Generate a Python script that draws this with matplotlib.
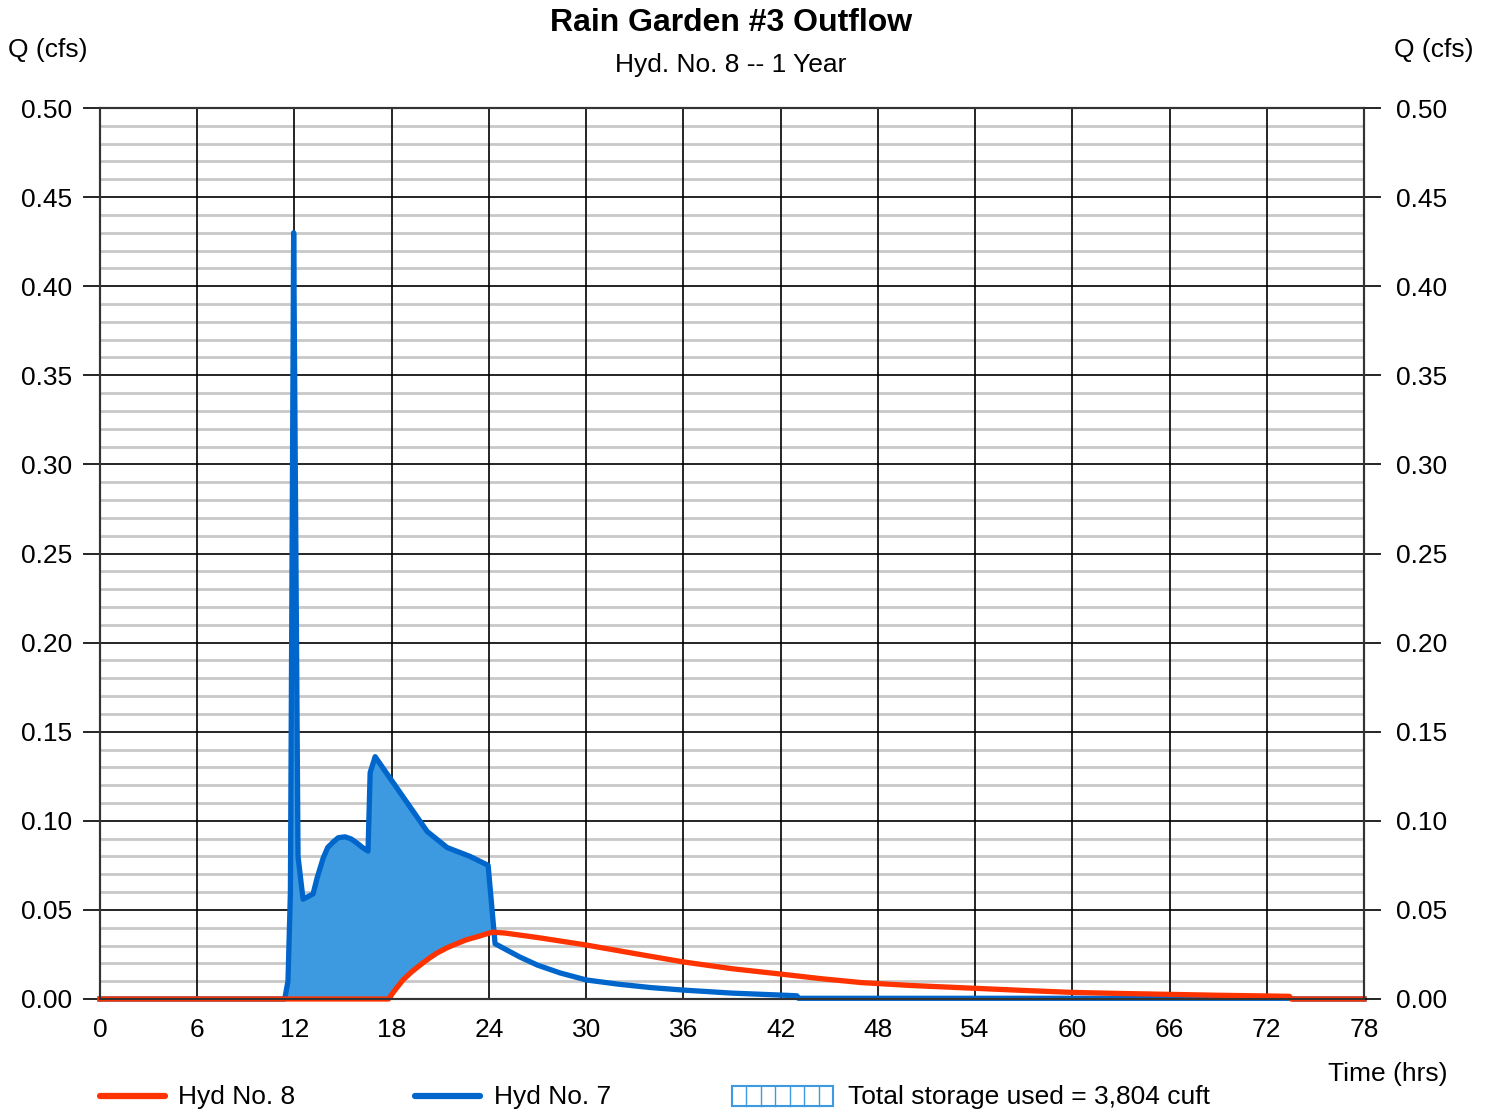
import numpy as np
import matplotlib
matplotlib.use("Agg")
import matplotlib.pyplot as plt
from matplotlib.patches import Rectangle
from matplotlib.lines import Line2D

plt.rcParams['font.family'] = ['Liberation Sans', 'DejaVu Sans']

# Hyd No. 7 (inflow)
t7 = [0, 11.4, 11.6, 11.75, 11.95, 12.05, 12.22, 12.53, 13.15, 13.4, 13.77, 14.05,
      14.38, 14.7, 15.12, 15.5, 15.86, 16.2, 16.54, 16.67, 16.98, 17.28, 20.19,
      21.42, 22.84, 23.95, 24.38, 25.0, 25.9, 27.0, 28.4, 30.0, 32.0, 34.0, 36.0,
      39.0, 42.0, 43.0, 43.1, 73.5, 73.6, 78]
q7 = [0, 0, 0.01, 0.06, 0.43, 0.30, 0.08, 0.056, 0.059, 0.068, 0.079, 0.085,
      0.088, 0.0905, 0.091, 0.0898, 0.0875, 0.085, 0.083, 0.127, 0.136, 0.132, 0.094,
      0.085, 0.080, 0.075, 0.031, 0.028, 0.0236, 0.019, 0.0146, 0.0107, 0.0083,
      0.0064, 0.005, 0.0033, 0.0022, 0.0018, 0.0004, 0.0004, 0, 0]

# Hyd No. 8 (outflow)
t8 = [0, 17.8, 18.2, 18.7, 19.2, 19.75, 20.3, 20.8, 21.4, 22.0, 22.6, 23.3, 24.2,
      25.0, 27.0, 30.0, 33.0, 36.0, 39.0, 42.0, 44.5, 47.0, 50.0, 54.0, 57.0, 60.0,
      63.0, 66.0, 69.0, 72.0, 73.4, 73.5, 78]
q8 = [0, 0, 0.005, 0.0107, 0.015, 0.019, 0.0228, 0.0258, 0.0287, 0.031, 0.0332,
      0.035, 0.0375, 0.037, 0.0345, 0.0303, 0.0255, 0.0208, 0.017, 0.014, 0.0114,
      0.0092, 0.0076, 0.006, 0.0048, 0.0037, 0.0031, 0.0026, 0.0021, 0.0017,
      0.0015, 0, 0]

xticks = [0, 6, 12, 18, 24, 30, 36, 42, 48, 54, 60, 66, 72, 78]
yticks = [0.00, 0.05, 0.10, 0.15, 0.20, 0.25, 0.30, 0.35, 0.40, 0.45, 0.50]

title = "Rain Garden #3 Outflow"
subtitle = "Hyd. No. 8 -- 1 Year"
storage_label = "Total storage used = 3,804 cuft"

red = '#ff3300'
blue = '#0066cc'
fill_c = '#3d9ae0'

fig = plt.figure(figsize=(14.93, 11.10), dpi=100)
ax = fig.add_axes([100/1493, 1-999/1110, 1264/1493, 891/1110])
ax.set_xlim(0, 78)
ax.set_ylim(0, 0.5)

# grid
for y in np.arange(0.01, 0.5, 0.01):
    if abs(y / 0.05 - round(y / 0.05)) > 1e-6:
        ax.axhline(y, color='#c8c8c8', lw=2.0, zorder=1)
for y in yticks[1:-1]:
    ax.axhline(y, color='black', lw=1.2, zorder=1.5)
for x in xticks[1:-1]:
    ax.axvline(x, color='black', lw=1.2, zorder=1.5)

# fill between inflow and outflow
tg = np.union1d(np.array(t7, float), np.array(t8, float))
tg = np.union1d(tg, np.linspace(0, 78, 3000))
i7 = np.interp(tg, t7, q7)
i8 = np.interp(tg, t8, q8)
ax.fill_between(tg, i8, i7, where=i7 > i8, interpolate=True, color=fill_c, lw=0, zorder=2)

ax.plot(t7, q7, color=blue, lw=3.8, zorder=3, solid_joinstyle='round', clip_on=False)
ax.plot(t8, q8, color=red, lw=3.8, zorder=4, solid_joinstyle='round', clip_on=False)

ax.set_xticks(xticks)
ax.set_xticklabels([str(v) for v in xticks])
ax.set_yticks(yticks)
ax.set_yticklabels([f"{v:.2f}" for v in yticks])
ax.tick_params(axis='y', length=12, width=1.2, labelsize=19, pad=8, left=True, right=False)
ax.tick_params(axis='x', length=0, labelsize=19, pad=14)
for s in ax.spines.values():
    s.set_linewidth(1.5)
    s.set_color('#333333')

axr = ax.twinx()
axr.set_ylim(0, 0.5)
axr.set_yticks(yticks)
axr.set_yticklabels([f"{v:.2f}" for v in yticks])
axr.tick_params(axis='y', length=12, width=1.2, labelsize=19, pad=11)
for s in axr.spines.values():
    s.set_linewidth(1.5)
    s.set_color('#333333')

fig.text(731/1493, 1-23/1110, title, ha='center', va='center', fontsize=23, fontweight='bold')
fig.text(731/1493, 1-65/1110, subtitle, ha='center', va='center', fontsize=19)
fig.text(48/1493, 1-50/1110, "Q (cfs)", ha='center', va='center', fontsize=19)
fig.text(1434/1493, 1-50/1110, "Q (cfs)", ha='center', va='center', fontsize=19)
fig.text(1388/1493, 1-1074/1110, "Time (hrs)", ha='center', va='center', fontsize=19)

# legend
ly = 1 - 1096/1110
ty = 1 - 1097/1110
fig.add_artist(Line2D([100/1493, 165/1493], [ly, ly], color=red, lw=4.5, solid_capstyle='round'))
fig.text(178/1493, ty, "Hyd No. 8", ha='left', va='center', fontsize=19)
fig.add_artist(Line2D([415/1493, 480/1493], [ly, ly], color=blue, lw=4.5, solid_capstyle='round'))
fig.text(494/1493, ty, "Hyd No. 7", ha='left', va='center', fontsize=19)
bx0, bx1 = 732/1493, 833/1493
by0, by1 = 1 - 1106/1110, 1 - 1086/1110
fig.add_artist(Rectangle((bx0, by0), bx1-bx0, by1-by0, transform=fig.transFigure,
                         facecolor='white', edgecolor=fill_c, lw=1.5))
for k in range(1, 7):
    xx = bx0 + k * (bx1 - bx0) / 7
    fig.add_artist(Line2D([xx, xx], [by0, by1], color=fill_c, lw=1.0))
fig.text(848/1493, ty, storage_label, ha='left', va='center', fontsize=19)

fig.savefig("out.png", dpi=100)
